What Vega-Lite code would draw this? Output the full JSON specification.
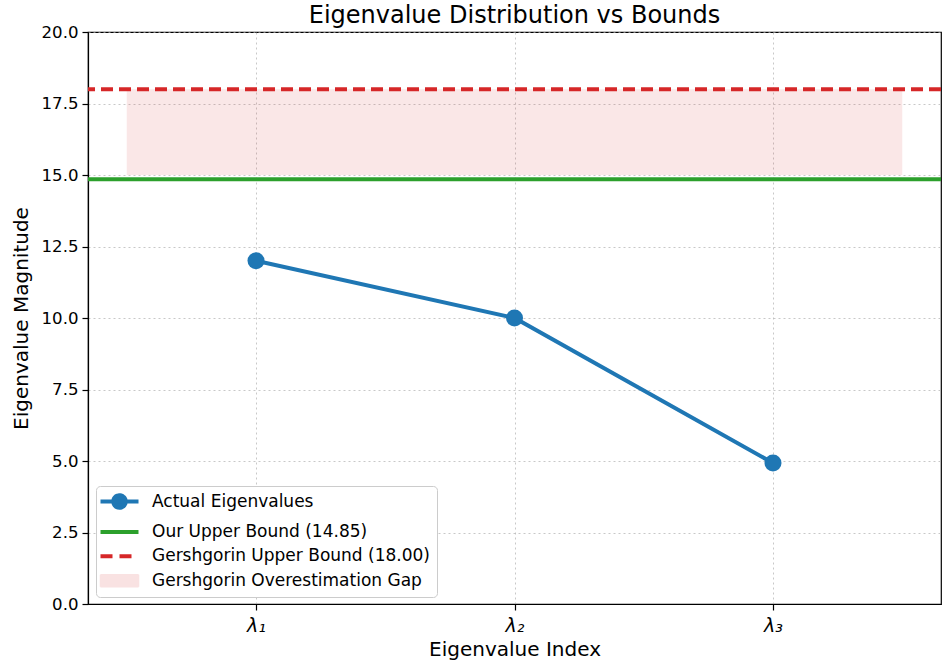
{
  "$schema": "https://vega.github.io/schema/vega-lite/v6.json",
  "width": 853,
  "height": 572,
  "autosize": {"type": "none"},
  "padding": {"left": 88, "top": 32, "right": 1, "bottom": 64},
  "background": "white",
  "title": {"text": "Eigenvalue Distribution vs Bounds", "fontSize": 24, "font": "DejaVu Sans", "fontWeight": "normal", "color": "black", "offset": -4, "anchor": "middle", "frame": "group"},
  "config": {
    "font": "DejaVu Sans",
    "view": {"stroke": "black", "strokeWidth": 1.2},
    "axis": {
      "domainColor": "black", "domainWidth": 1.2, "tickColor": "black", "tickSize": 6, "tickWidth": 1.2,
      "labelFontSize": 16.6, "labelColor": "black", "labelFont": "DejaVu Sans",
      "titleFontSize": 20, "titleFontWeight": "normal", "titleColor": "black", "titleFont": "DejaVu Sans",
      "gridColor": "#b0b0b0", "gridDash": [2, 3], "gridOpacity": 0.7, "gridWidth": 1
    },
    "legend": {
      "orient": "none", "legendX": 8, "legendY": 454,
      "strokeColor": "#cccccc", "fillColor": "white", "cornerRadius": 4, "padding": 7,
      "labelFontSize": 17, "labelFont": "DejaVu Sans", "labelColor": "black",
      "symbolSize": 100, "symbolStrokeWidth": 4, "symbolOpacity": 1, "rowPadding": 6.4, "labelOffset": 24, "symbolOffset": 8, "labelLimit": 400
    }
  },
  "datasets": {
    "eig": [
      {"idx": 0, "value": 12.0},
      {"idx": 1, "value": 10.0},
      {"idx": 2, "value": 4.93}
    ],
    "gap": [
      {"x0": -0.5, "x1": 2.5, "lo": 15.0, "hi": 18.0}
    ],
    "bounds": [
      {"name": "Our Upper Bound (14.85)", "bound": 14.85},
      {"name": "Gershgorin Upper Bound (18.00)", "bound": 18.0}
    ]
  },
  "layer": [
    {
      "data": {"name": "gap"},
      "mark": {"type": "rect", "fillOpacity": 0.11, "strokeOpacity": 0.12, "strokeWidth": 1.5},
      "encoding": {
        "x": {"field": "x0", "type": "quantitative",
              "scale": {"domain": [-0.65, 2.65], "nice": false, "zero": false},
              "axis": {"values": [0, 1, 2], "labelExpr": "['λ₁','λ₂','λ₃'][datum.value]", "labelFontStyle": "italic", "labelFontSize": 19, "title": "Eigenvalue Index", "titlePadding": 4, "grid": true, "labelPadding": 6}},
        "x2": {"field": "x1"},
        "y": {"field": "lo", "type": "quantitative",
              "scale": {"domain": [0, 20], "nice": false},
              "axis": {"values": [0, 2.5, 5, 7.5, 10, 12.5, 15, 17.5, 20], "format": ".1f", "title": "Eigenvalue Magnitude", "titlePadding": 10, "grid": true, "labelPadding": 4}},
        "y2": {"field": "hi"},
        "color": {"datum": "Gershgorin Overestimation Gap", "type": "nominal", "title": null,
          "scale": {"domain": ["Actual Eigenvalues", "Our Upper Bound (14.85)", "Gershgorin Upper Bound (18.00)", "Gershgorin Overestimation Gap"],
                    "range": ["#1f77b4", "#2ca02c", "#d62728", "#d62728"]},
          "legend": {"title": null, "symbolSize": 100,
            "encoding": {"symbols": {
              "size": {"value": 100},
              "shape": {"value": {"expr": "datum.value === 'Actual Eigenvalues' ? 'M-3.8,0H3.8M1.25,0A1.25,1.25,0,1,1,-1.25,0A1.25,1.25,0,1,1,1.25,0Z' : datum.value === 'Gershgorin Overestimation Gap' ? 'M-3.8,-1.2H3.8V1.2H-3.8Z' : 'M-3.8,0H3.8'"}},
              "strokeWidth": {"value": {"expr": "datum.value === 'Gershgorin Overestimation Gap' ? 1.5 : 4"}},
              "strokeDash": {"value": {"expr": "datum.value === 'Gershgorin Upper Bound (18.00)' ? [12, 7] : [1, 0]"}},
              "opacity": {"value": {"expr": "datum.value === 'Gershgorin Overestimation Gap' ? 0.13 : 1"}}
            }}
          }
        }
      }
    },
    {
      "data": {"name": "bounds"},
      "mark": {"type": "rule", "strokeWidth": 4},
      "encoding": {
        "y": {"field": "bound", "type": "quantitative"},
        "color": {"field": "name", "type": "nominal", "title": null},
        "strokeDash": {"field": "name", "type": "nominal",
          "scale": {"domain": ["Our Upper Bound (14.85)", "Gershgorin Upper Bound (18.00)"], "range": [[1, 0], [12, 6]]},
          "legend": null}
      }
    },
    {
      "data": {"name": "eig"},
      "mark": {"type": "line", "strokeWidth": 4, "point": {"filled": true, "size": 290, "opacity": 1}},
      "encoding": {
        "x": {"field": "idx", "type": "quantitative"},
        "y": {"field": "value", "type": "quantitative"},
        "color": {"datum": "Actual Eigenvalues", "type": "nominal", "title": null}
      }
    }
  ]
}
